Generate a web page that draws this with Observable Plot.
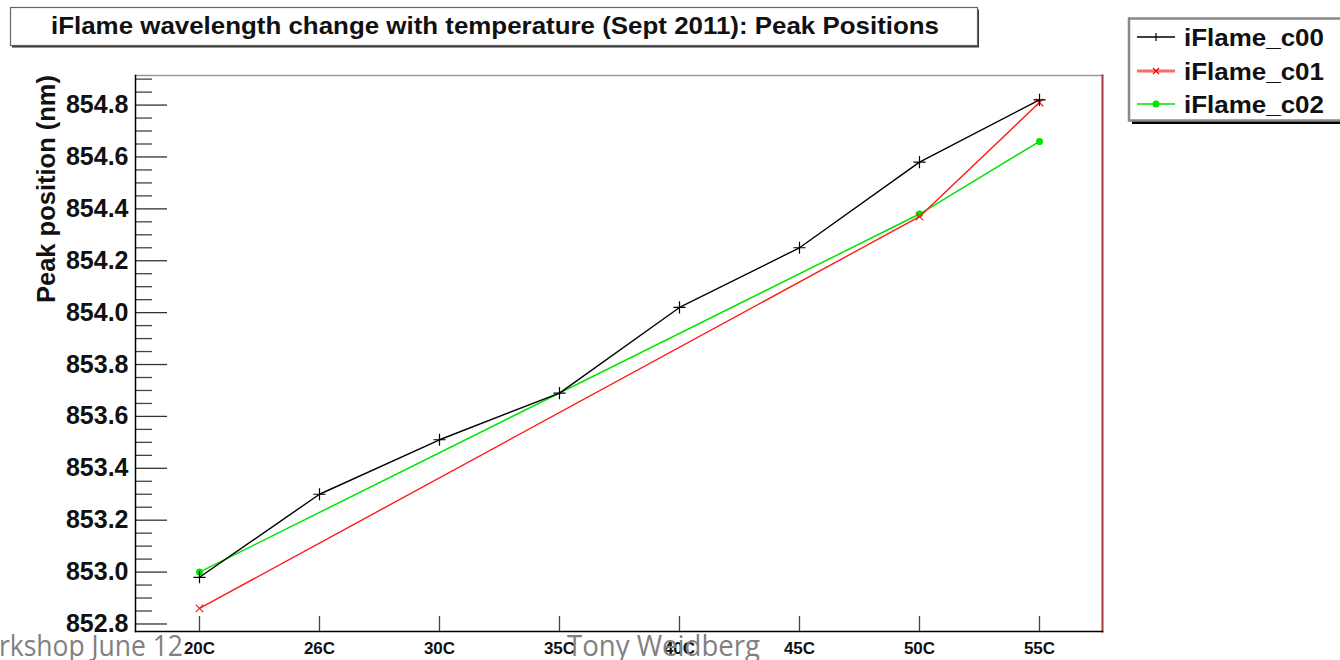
<!DOCTYPE html>
<html><head><meta charset="utf-8">
<script src="https://cdn.jsdelivr.net/npm/d3@7"></script>
<script src="https://cdn.jsdelivr.net/npm/@observablehq/plot@0.6"></script>
<style>body{margin:0;background:#fff;} #chart{position:relative;width:1340px;height:660px;overflow:hidden}</style>
</head><body><div id="chart"></div>
<script>
// ---- data ----
const temps = ["20C","26C","30C","35C","40C","45C","50C","55C"];
const c00Temps = ["20C","26C","30C","35C","40C","45C","50C","55C"];
const c00 = [852.98, 853.30, 853.51, 853.69, 854.02, 854.25, 854.58, 854.82];
const c01Temps = ["20C","50C","55C"];
const c01 = [852.86, 854.37, 854.81];
const c02Temps = ["20C","50C","55C"];
const c02 = [853.00, 854.38, 854.66];
const seriesNames = ["iFlame_c00","iFlame_c01","iFlame_c02"];
const seriesColors = ["#000000","#ff1a1a","#00e400"];
const yMajor = [852.8, 853.0, 853.2, 853.4, 853.6, 853.8, 854.0, 854.2, 854.4, 854.6, 854.8];
const yMinor = d3.range(0, 43).map(i => +(852.8 + i*0.05).toFixed(2)).filter(v => !yMajor.some(m => Math.abs(m - v) < 1e-6));
const yDomain = [852.771, 854.914];
const titleText = "iFlame wavelength change with temperature (Sept 2011): Peak Positions";
const yLabel = "Peak position (nm)";
const footerLeft = "rkshop June 12";
const footerMid = "Tony Weidberg";

const rows = [
  ...c00Temps.map((t,i)=>({series:seriesNames[0], temp:t, value:c00[i]})),
  ...c01Temps.map((t,i)=>({series:seriesNames[1], temp:t, value:c01[i]})),
  ...c02Temps.map((t,i)=>({series:seriesNames[2], temp:t, value:c02[i]}))
];
const bySeries = s => rows.filter(r => r.series === s);

const W = 1340, H = 660, mL = 135, mR = 238, mT = 75, mB = 29;
const innerW = W - mL - mR, innerH = H - mT - mB;

const plot = Plot.plot({
  width: W, height: H,
  marginLeft: mL, marginRight: mR, marginTop: mT, marginBottom: mB,
  style: {background: "white", fontFamily: "'Liberation Sans', Arial, sans-serif", overflow: "visible"},
  x: {type: "point", domain: temps, padding: 0.5, label: null},
  y: {domain: yDomain, label: null},
  color: {domain: seriesNames, range: seriesColors},
  marks: [
    Plot.frame({anchor: "top", stroke: "#999", strokeWidth: 1.5}),
    Plot.frame({anchor: "right", stroke: "#a83a3a", strokeWidth: 2}),
    // y ticks (inward)
    Plot.tickY(yMinor, {y: d => d, insetRight: innerW - 17, stroke: "#444", strokeWidth: 1.3}),
    Plot.tickY(yMajor, {y: d => d, insetRight: innerW - 32, stroke: "#333", strokeWidth: 1.3}),
    // x ticks (inward)
    Plot.tickX(temps, {x: d => d, insetTop: innerH - 15, stroke: "#444", strokeWidth: 1.3}),
    Plot.axisY({ticks: yMajor, tickSize: 0, tickPadding: 7, tickFormat: d => d.toFixed(1), fontSize: 25, fontWeight: "bold", fill: "#111", label: null}),
    Plot.axisX({tickSize: 0, tickPadding: 10, fontSize: 17, fontWeight: "bold", fill: "#111", label: null}),
    Plot.frame({anchor: "left", stroke: "#000", strokeWidth: 1.5}),
    Plot.frame({anchor: "bottom", stroke: "#000", strokeWidth: 1.5}),
    // series
    Plot.line(bySeries(seriesNames[2]), {x: "temp", y: "value", stroke: "series", strokeWidth: 1.5}),
    Plot.dot(bySeries(seriesNames[2]), {x: "temp", y: "value", fill: "series", r: 3.5}),
    Plot.line(bySeries(seriesNames[1]), {x: "temp", y: "value", stroke: "series", strokeWidth: 1.4}),
    Plot.dot(bySeries(seriesNames[1]), {x: "temp", y: "value", stroke: "series", symbol: "times", r: 3.5, strokeWidth: 1.2}),
    Plot.line(bySeries(seriesNames[0]), {x: "temp", y: "value", stroke: "series", strokeWidth: 1.4}),
    Plot.dot(bySeries(seriesNames[0]), {x: "temp", y: "value", stroke: "series", symbol: "plus", r: 4, strokeWidth: 1.2})
  ]
});
document.getElementById("chart").appendChild(plot);

// ---- annotations: title box, legend, y label, footer ----
const svg = d3.select(plot);
const font = "'Liberation Sans', Arial, sans-serif";

// title box
svg.append("rect").attr("x", 12).attr("y", 9.5).attr("width", 967).attr("height", 38).attr("fill", "#333");
svg.append("rect").attr("x", 10.5).attr("y", 7.5).attr("width", 967).attr("height", 38)
  .attr("fill", "white").attr("stroke", "#666").attr("stroke-width", 1.2);
svg.append("text").attr("x", 495).attr("y", 34).attr("text-anchor", "middle")
  .attr("font-family", font).attr("font-weight", "bold").attr("font-size", 24).attr("fill", "#111")
  .attr("textLength", 888).attr("lengthAdjust", "spacingAndGlyphs").text(titleText);

// y label
svg.append("text").attr("transform", "translate(55,75) rotate(-90)").attr("text-anchor", "end")
  .attr("font-family", font).attr("font-weight", "bold").attr("font-size", 25).attr("fill", "#111")
  .attr("textLength", 228).attr("lengthAdjust", "spacingAndGlyphs").text(yLabel);

// legend
svg.append("rect").attr("x", 1132).attr("y", 22).attr("width", 230).attr("height", 102).attr("fill", "#000");
svg.append("rect").attr("x", 1129).attr("y", 18.5).attr("width", 230).attr("height", 102)
  .attr("fill", "white").attr("stroke", "#888").attr("stroke-width", 2.5);
const legendY = [37, 71, 104];
seriesNames.forEach((name, i) => {
  const y = legendY[i], col = seriesColors[i];
  svg.append("line").attr("x1", 1137).attr("x2", 1175).attr("y1", y).attr("y2", y)
    .attr("stroke", i === 1 ? "#ff6a6a" : col).attr("stroke-width", i === 1 ? 3 : 1.5);
  if (i === 0) {
    svg.append("line").attr("x1", 1156).attr("x2", 1156).attr("y1", y-4).attr("y2", y+4).attr("stroke", col).attr("stroke-width", 1.2);
  } else if (i === 1) {
    svg.append("path").attr("d", `M1153,${y-3}L1159,${y+3}M1153,${y+3}L1159,${y-3}`).attr("stroke", "#ff0000").attr("stroke-width", 1.2);
  } else {
    svg.append("circle").attr("cx", 1156).attr("cy", y).attr("r", 3.5).attr("fill", col);
  }
  svg.append("text").attr("x", 1184).attr("y", y + 8.5).attr("text-anchor", "start")
    .attr("font-family", font).attr("font-weight", "bold").attr("font-size", 24).attr("fill", "#111")
    .attr("textLength", 140).attr("lengthAdjust", "spacingAndGlyphs").text(name);
});

// footer (slide overlay text)
svg.append("text").attr("x", -1).attr("y", 656).attr("text-anchor", "start").attr("font-family", "'Open Sans', 'Noto Sans', sans-serif")
  .attr("font-size", 29).attr("fill", "#808080").attr("textLength", 184).attr("lengthAdjust", "spacingAndGlyphs").text(footerLeft);
svg.append("text").attr("x", 567).attr("y", 656).attr("text-anchor", "start").attr("font-family", "'Open Sans', 'Noto Sans', sans-serif")
  .attr("font-size", 29).attr("fill", "#808080").attr("textLength", 193).attr("lengthAdjust", "spacingAndGlyphs").text(footerMid);
</script></body></html>
